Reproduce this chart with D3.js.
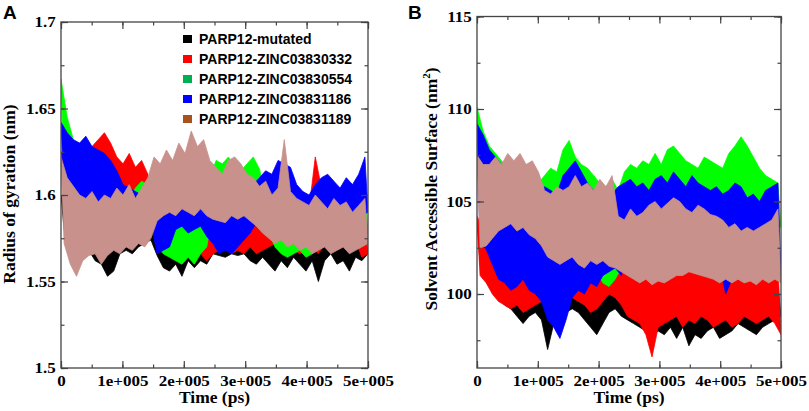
<!DOCTYPE html>
<html lang="en">
<head>
<meta charset="UTF-8">
<title>Radius of gyration and SASA</title>
<script src="https://d3js.org/d3.v7.min.js"></script>
<style>
  body { margin: 0; background: #fff; }
  .tick text { font-family: "Liberation Serif", "Times New Roman", serif; font-weight: bold; font-size: 14.5px; fill: #000; }
  .axis-title { font-family: "Liberation Serif", "Times New Roman", serif; font-weight: bold; font-size: 17.5px; }
  .panel-label { font-family: "Liberation Sans", Arial, sans-serif; font-weight: bold; font-size: 19px; }
  .legend text { font-family: "Liberation Sans", Arial, sans-serif; font-weight: bold; font-size: 14px; }
</style>
</head>
<body>
<svg id="chart" width="809" height="411"></svg>
<script>
// series
const seriesNames = ["PARP12-mutated", "PARP12-ZINC03830332", "PARP12-ZINC03830554", "PARP12-ZINC03831186", "PARP12-ZINC03831189"];
const lineColors = ["#000000", "#ff0000", "#00ff00", "#0000ff", "#c8918c"];
const legendColors = ["#000000", "#ff0000", "#00b050", "#0000ff", "#a9521e"];

// time axis (ps)
const timeTicks = [0, 100000, 200000, 300000, 400000, 500000];
const timeTickLabels = ["0", "1e+005", "2e+005", "3e+005", "4e+005", "5e+005"];

// panel A: radius of gyration (nm), high / low per 10 ns window
const rgTicks = [1.5, 1.55, 1.6, 1.65, 1.7];
const rgTickLabels = ["1.5", "1.55", "1.6", "1.65", "1.7"];

const rgMutatedHi = [1.600,1.592,1.588,1.584,1.582,1.580,1.578,1.574,1.576,1.580,1.582,1.578,1.580,1.584,1.586,1.582,1.578,1.580,1.576,1.578,1.580,1.576,1.578,1.574,1.580,1.578,1.576,1.582,1.584,1.580,1.578,1.582,1.580,1.578,1.576,1.580,1.578,1.582,1.578,1.576,1.580,1.574,1.578,1.580,1.576,1.578,1.580,1.576,1.578,1.576];
const rgMutatedLo = [1.580,1.572,1.566,1.565,1.568,1.562,1.560,1.553,1.556,1.566,1.568,1.566,1.570,1.572,1.574,1.565,1.558,1.556,1.560,1.553,1.562,1.558,1.562,1.560,1.566,1.565,1.564,1.566,1.565,1.566,1.562,1.560,1.564,1.560,1.556,1.562,1.558,1.564,1.560,1.556,1.562,1.550,1.562,1.566,1.560,1.562,1.556,1.564,1.562,1.566];

const rg332Hi = [1.625,1.620,1.618,1.615,1.620,1.628,1.632,1.636,1.630,1.622,1.618,1.624,1.616,1.620,1.612,1.598,1.592,1.590,1.588,1.592,1.586,1.590,1.588,1.584,1.588,1.586,1.590,1.586,1.584,1.588,1.586,1.584,1.588,1.592,1.598,1.600,1.592,1.615,1.586,1.590,1.592,1.622,1.604,1.602,1.590,1.588,1.592,1.598,1.586,1.590];
const rg332Lo = [1.598,1.596,1.594,1.592,1.596,1.602,1.600,1.606,1.604,1.600,1.598,1.600,1.598,1.600,1.596,1.578,1.572,1.570,1.568,1.566,1.568,1.570,1.566,1.562,1.566,1.568,1.570,1.566,1.568,1.566,1.570,1.566,1.568,1.570,1.572,1.574,1.570,1.568,1.566,1.568,1.570,1.566,1.572,1.574,1.568,1.570,1.572,1.574,1.564,1.566];

const rg554Hi = [1.667,1.645,1.632,1.625,1.612,1.605,1.600,1.596,1.592,1.590,1.594,1.598,1.604,1.608,1.606,1.590,1.586,1.584,1.588,1.584,1.586,1.580,1.586,1.592,1.610,1.620,1.618,1.622,1.616,1.614,1.618,1.622,1.615,1.600,1.592,1.588,1.600,1.596,1.592,1.588,1.590,1.594,1.598,1.592,1.596,1.600,1.596,1.592,1.598,1.602];
const rg554Lo = [1.615,1.600,1.598,1.596,1.588,1.580,1.578,1.574,1.572,1.570,1.574,1.580,1.584,1.590,1.586,1.570,1.566,1.564,1.562,1.560,1.564,1.560,1.566,1.570,1.590,1.596,1.598,1.600,1.596,1.594,1.600,1.602,1.596,1.578,1.570,1.566,1.564,1.566,1.568,1.564,1.566,1.570,1.574,1.570,1.572,1.576,1.574,1.570,1.574,1.578];

const rg186Hi = [1.642,1.636,1.632,1.630,1.634,1.628,1.626,1.624,1.620,1.614,1.606,1.604,1.602,1.600,1.598,1.604,1.600,1.598,1.600,1.602,1.604,1.600,1.602,1.598,1.590,1.588,1.592,1.594,1.590,1.596,1.600,1.606,1.610,1.614,1.612,1.620,1.618,1.616,1.606,1.602,1.600,1.606,1.610,1.612,1.608,1.604,1.610,1.606,1.612,1.622];
const rg186Lo = [1.600,1.594,1.590,1.588,1.590,1.586,1.588,1.586,1.584,1.586,1.588,1.586,1.588,1.586,1.584,1.566,1.568,1.570,1.580,1.582,1.578,1.580,1.582,1.576,1.572,1.566,1.568,1.566,1.570,1.574,1.578,1.584,1.588,1.590,1.592,1.594,1.592,1.590,1.586,1.584,1.580,1.586,1.588,1.586,1.584,1.580,1.586,1.584,1.588,1.590];

const rg189Hi = [1.622,1.610,1.605,1.600,1.598,1.602,1.596,1.600,1.598,1.604,1.600,1.606,1.598,1.604,1.610,1.622,1.618,1.626,1.620,1.630,1.624,1.637,1.628,1.632,1.620,1.616,1.612,1.620,1.622,1.618,1.612,1.610,1.605,1.608,1.600,1.604,1.632,1.602,1.598,1.596,1.594,1.600,1.596,1.592,1.598,1.594,1.596,1.590,1.594,1.598];
const rg189Lo = [1.572,1.560,1.553,1.562,1.565,1.566,1.560,1.565,1.568,1.566,1.570,1.568,1.572,1.570,1.575,1.585,1.588,1.590,1.588,1.592,1.590,1.588,1.592,1.588,1.586,1.585,1.584,1.588,1.586,1.588,1.585,1.582,1.578,1.575,1.572,1.574,1.570,1.572,1.568,1.570,1.566,1.568,1.570,1.566,1.568,1.570,1.566,1.568,1.570,1.572];

// panel B: solvent accessible surface (nm^2), high / low per 10 ns window
const sasaTicks = [100, 105, 110, 115];
const sasaTickLabels = ["100", "105", "110", "115"];

const sasaMutatedHi = [104.0,103.0,102.4,102.0,101.6,101.2,101.0,100.8,101.2,101.0,100.6,100.4,100.2,100.6,101.2,101.4,101.0,100.8,100.6,100.4,101.0,101.4,101.6,101.2,100.6,100.2,100.0,99.8,100.2,100.4,100.0,100.2,99.8,100.4,100.0,100.2,99.8,100.2,100.6,100.4,100.0,100.2,100.6,100.4,100.2,100.0,100.4,100.6,100.2,100.4];
const sasaMutatedLo = [101.6,100.8,100.2,99.8,99.4,99.2,98.8,98.4,98.8,99.0,98.6,97.0,98.4,98.6,99.0,99.2,99.0,98.6,98.2,97.8,98.4,99.0,99.2,98.8,98.6,98.4,98.2,98.0,97.8,98.0,97.8,98.2,97.6,98.2,97.2,97.8,97.6,98.0,98.2,97.6,97.8,98.0,98.4,98.2,98.0,97.8,98.2,98.4,98.6,98.8];

const sasa332Hi = [104.2,103.6,103.0,102.4,102.0,101.8,102.2,101.6,102.0,101.8,102.0,101.6,101.4,101.8,102.0,102.4,102.0,101.8,101.6,102.0,102.4,102.6,102.2,101.6,101.4,101.6,101.8,101.4,101.6,101.8,101.4,101.6,101.8,101.4,101.6,101.2,101.8,101.6,101.4,101.2,101.6,101.4,101.2,101.6,101.8,101.4,101.6,101.8,101.4,101.6];
const sasa332Lo = [101.0,100.6,100.0,99.6,99.4,99.2,99.4,99.0,99.2,99.4,99.6,99.2,99.0,99.4,99.6,99.8,99.6,99.4,99.0,99.2,99.6,100.0,99.8,99.4,98.8,98.6,98.4,97.8,96.6,98.2,98.4,98.6,98.8,98.2,98.6,98.4,98.8,98.6,98.2,98.4,98.6,98.2,98.4,98.8,98.6,98.4,98.6,98.8,98.4,97.8];

const sasa554Hi = [110.1,108.8,108.0,107.6,107.2,106.8,107.0,106.4,106.6,106.2,106.0,106.4,106.8,106.6,107.8,108.3,107.4,107.0,106.8,106.4,106.0,105.8,106.2,105.6,106.6,107.0,106.8,107.2,107.0,107.6,107.0,107.8,108.0,107.6,107.2,107.0,106.8,107.4,107.2,107.0,106.8,107.6,108.0,108.5,108.0,107.4,106.8,106.4,106.2,106.0];
const sasa554Lo = [104.5,103.6,103.0,102.4,102.6,102.0,101.8,101.4,101.2,101.0,101.4,101.8,102.0,101.8,102.2,102.6,102.4,102.0,101.6,101.2,100.6,100.4,100.8,101.4,102.6,104.0,104.2,104.4,104.2,104.4,104.0,104.6,104.8,104.4,104.0,104.2,104.6,104.4,104.2,104.0,103.8,104.2,104.6,104.4,104.2,104.0,103.8,103.6,103.8,103.6];

const sasa186Hi = [109.2,108.6,107.8,107.4,107.0,106.6,106.0,105.4,105.6,105.0,104.6,105.8,105.6,105.4,106.4,106.8,107.2,106.6,106.0,105.6,105.4,105.8,105.4,105.8,106.0,106.2,105.8,106.0,105.6,106.2,106.4,106.0,106.6,106.2,105.8,106.4,106.0,105.8,105.6,105.8,105.4,105.6,106.0,105.8,105.2,105.4,105.0,105.6,105.8,106.0];
const sasa186Lo = [102.8,102.4,101.6,100.8,100.6,100.2,100.4,100.8,100.2,100.0,99.6,98.6,98.2,97.6,98.6,99.8,100.2,100.0,100.6,100.4,101.0,101.2,101.4,101.0,102.4,103.0,102.8,103.0,102.6,103.2,103.4,103.2,103.6,103.4,103.0,103.2,103.4,102.8,102.0,101.6,100.0,100.8,102.2,102.8,103.0,102.6,102.4,101.6,101.2,101.0];

const sasa189Hi = [107.5,107.0,107.0,107.4,107.0,107.6,107.2,107.6,107.0,107.2,106.6,105.6,105.4,105.8,105.6,105.8,106.4,105.8,106.0,105.6,106.2,105.8,106.4,104.2,104.0,104.6,104.2,104.4,104.8,105.0,104.6,104.9,105.2,105.0,104.6,104.4,104.8,104.6,104.3,104.2,104.0,103.6,103.8,103.4,103.6,103.4,103.6,103.8,104.0,104.6];
const sasa189Lo = [102.5,102.6,103.0,103.4,103.6,103.8,103.4,103.6,103.2,103.0,102.6,102.0,101.8,101.6,101.8,102.0,101.6,101.4,101.8,101.6,101.8,101.5,101.4,101.2,101.0,100.8,100.6,100.8,100.5,100.7,100.6,100.8,101.0,101.0,101.2,101.1,101.0,100.9,100.8,100.6,100.8,100.6,100.8,100.6,100.7,100.5,100.8,100.6,100.8,100.6];

const svg = d3.select("#chart");
const frameColor = "#444";

// one row per 10 ns window: high value at the window start, low value half a window later
function windows(hi, lo) {
  const step = 500000 / (hi.length * 2 - 1);
  return hi.map((h, i) => ({ tHi: 2 * i * step, hi: h, tLo: (2 * i + 1) * step, lo: lo[i] }));
}

function drawPanel(p) {
  const x = d3.scaleLinear().domain([0, 500000]).range([p.left, p.right]);
  const y = d3.scaleLinear().domain(p.yDomain).range([p.bottom, p.top]);
  const g = svg.append("g");

  g.append("clipPath").attr("id", "clip-" + p.id)
    .append("rect").attr("x", p.left).attr("y", p.top)
    .attr("width", p.right - p.left).attr("height", p.bottom - p.top);

  // filled band between the highs and lows of each trajectory
  const band = d3.area()
    .x0(d => x(d.tLo)).y0(d => y(d.lo))
    .x1(d => x(d.tHi)).y1(d => y(d.hi));
  const plot = g.append("g").attr("clip-path", "url(#clip-" + p.id + ")");
  p.series.forEach((s, i) => {
    plot.append("path")
      .datum(windows(s[0], s[1]))
      .attr("fill", lineColors[i])
      .attr("stroke", lineColors[i])
      .attr("stroke-width", 0.8)
      .attr("stroke-linejoin", "miter")
      .attr("d", band);
  });

  // axes with inward ticks on all four sides
  const xMinor = d3.range(0, 500001, 50000);
  const yMinor = p.yMinor;
  const fmtX = d => timeTickLabels[timeTicks.indexOf(d)];
  const fmtY = d => p.yLabels[p.yTicks.indexOf(d)];

  g.append("g").attr("transform", `translate(0,${p.bottom})`)
    .call(d3.axisBottom(x).tickValues(xMinor).tickSize(-3.5).tickFormat(""));
  g.append("g").attr("class", "x-labels").attr("transform", `translate(0,${p.bottom})`)
    .call(d3.axisBottom(x).tickValues(timeTicks).tickSize(-7).tickPadding(8).tickFormat(fmtX));
  g.append("g").attr("transform", `translate(0,${p.top})`)
    .call(d3.axisTop(x).tickValues(xMinor).tickSize(-3.5).tickFormat(""));
  g.append("g").attr("transform", `translate(0,${p.top})`)
    .call(d3.axisTop(x).tickValues(timeTicks).tickSize(-7).tickFormat(""));

  g.append("g").attr("transform", `translate(${p.left},0)`)
    .call(d3.axisLeft(y).tickValues(yMinor).tickSize(-3.5).tickFormat(""));
  g.append("g").attr("class", "y-labels").attr("transform", `translate(${p.left},0)`)
    .call(d3.axisLeft(y).tickValues(p.yTicks).tickSize(-7).tickPadding(5.3).tickFormat(fmtY));
  g.append("g").attr("transform", `translate(${p.right},0)`)
    .call(d3.axisRight(y).tickValues(yMinor).tickSize(-3.5).tickFormat(""));
  g.append("g").attr("transform", `translate(${p.right},0)`)
    .call(d3.axisRight(y).tickValues(p.yTicks).tickSize(-7).tickFormat(""));

  g.selectAll(".domain").remove();
  g.selectAll(".tick line").attr("stroke", frameColor).attr("stroke-width", 1.2);
  // the original typeface is set a little wide
  g.selectAll(".x-labels .tick text, .y-labels .tick text")
    .attr("transform", function() {
      const tx = +d3.select(this).attr("x") || 0;
      return `translate(${tx * -0.17},0) scale(1.17,1)`;
    });

  g.append("rect")
    .attr("x", p.left).attr("y", p.top)
    .attr("width", p.right - p.left).attr("height", p.bottom - p.top)
    .attr("fill", "none").attr("stroke", frameColor).attr("stroke-width", 1.3);

  g.append("text").attr("class", "axis-title")
    .attr("x", (p.left + p.right) / 2).attr("y", 403)
    .attr("text-anchor", "middle").text("Time (ps)");

  const yt = g.append("text").attr("class", "axis-title")
    .attr("transform", `translate(${p.yTitleX},${p.yTitleY}) rotate(-90)`)
    .attr("text-anchor", "middle");
  yt.append("tspan").text(p.yTitle);
  if (p.yTitleSup) {
    yt.append("tspan").attr("dy", -7).attr("font-size", "11px").text(p.yTitleSup);
    yt.append("tspan").attr("dy", 7).text(")");
  }

  g.append("text").attr("class", "panel-label")
    .attr("x", p.labelX).attr("y", 19).text(p.id);
}

drawPanel({
  id: "A", left: 61, right: 368, top: 22, bottom: 368,
  yDomain: [1.5, 1.7], yTicks: rgTicks, yLabels: rgTickLabels,
  yMinor: d3.range(0, 9).map(i => 1.5 + i * 0.025),
  yTitle: "Radius of gyration (nm)", yTitleX: 15, yTitleY: 194,
  labelX: 3,
  series: [[rgMutatedHi, rgMutatedLo], [rg332Hi, rg332Lo], [rg554Hi, rg554Lo], [rg186Hi, rg186Lo], [rg189Hi, rg189Lo]]
});

drawPanel({
  id: "B", left: 477, right: 781, top: 16.5, bottom: 368,
  yDomain: [96, 115], yTicks: sasaTicks, yLabels: sasaTickLabels,
  yMinor: d3.range(0, 8).map(i => 97.5 + i * 2.5),
  yTitle: "Solvent Accessible Surface (nm", yTitleSup: "2", yTitleX: 437, yTitleY: 189,
  labelX: 408,
  series: [[sasaMutatedHi, sasaMutatedLo], [sasa332Hi, sasa332Lo], [sasa554Hi, sasa554Lo], [sasa186Hi, sasa186Lo], [sasa189Hi, sasa189Lo]]
});

// legend in panel A
const legend = svg.append("g").attr("class", "legend");
const legendY = d3.scalePoint().domain(seriesNames).range([39, 119]);
seriesNames.forEach((name, i) => {
  legend.append("rect")
    .attr("x", 183).attr("y", legendY(name) - 4)
    .attr("width", 9).attr("height", 8)
    .attr("fill", legendColors[i]);
  legend.append("text")
    .attr("x", 199).attr("y", legendY(name) + 5)
    .text(name);
});
</script>
</body>
</html>
